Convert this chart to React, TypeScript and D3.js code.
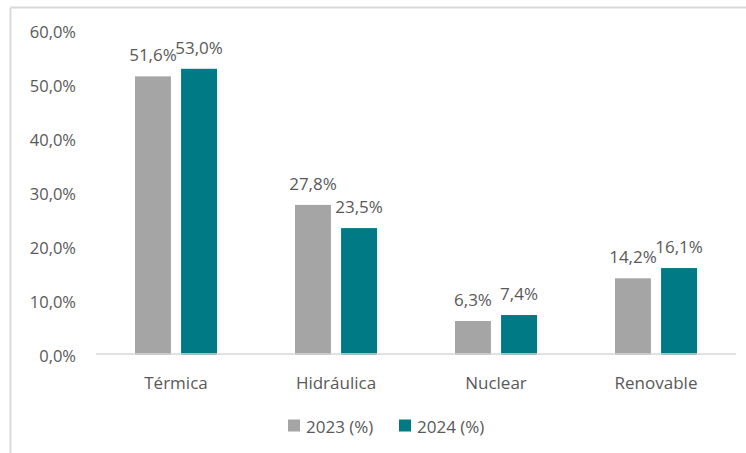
import React from "react";
import * as d3 from "d3";

const categories = ["Térmica", "Hidráulica", "Nuclear", "Renovable"];
const series2023 = [51.6, 27.8, 6.3, 14.2];
const series2024 = [53.0, 23.5, 7.4, 16.1];
const seriesNames = ["2023 (%)", "2024 (%)"];
const yTicks = [0, 10, 20, 30, 40, 50, 60];

const W = 746;
const H = 453;
const FONT = "'Open Sans', 'Noto Sans', sans-serif";
const TEXT = "#595959";
const COLORS = ["#A5A5A5", "#007A85"];

const fmt = (v: number) => v.toFixed(1).replace(".", ",") + "%";

export default function App() {
  const x0 = d3.scaleBand<string>().domain(categories).range([96, 736]).paddingInner(0).paddingOuter(0);
  const x1 = d3.scaleBand<string>().domain(["0", "1"]).range([0, 82]).paddingInner(0.22);
  const y = d3.scaleLinear().domain([0, 60]).range([355, 31]);
  const series = [series2023, series2024];
  const groupOffset = (x0.bandwidth() - 82) / 2;

  return (
    <svg
      width={W}
      height={H}
      style={{ position: "fixed", top: 0, left: 0, background: "#fff" }}
      fontFamily={FONT}
    >
      <rect x={0} y={0} width={W} height={H} fill="#fff" />
      {/* border */}
      <line x1={10.5} y1={7.5} x2={W + 2} y2={7.5} stroke="#D9D9D9" strokeWidth={2} />
      <line x1={10.5} y1={7.5} x2={10.5} y2={H + 2} stroke="#D9D9D9" strokeWidth={2} />

      {/* y tick labels */}
      {yTicks.map((t) => (
        <text
          key={t}
          x={76}
          y={y(t)}
          textAnchor="end"
          dominantBaseline="central"
          fontSize={16.5}
          fill={TEXT}
        >
          {fmt(t)}
        </text>
      ))}

      {/* bars */}
      {categories.map((c, ci) => (
        <g key={c} transform={`translate(${(x0(c) as number) + groupOffset},0)`}>
          {series.map((s, si) => {
            const bx = x1(String(si)) as number;
            const bw = x1.bandwidth();
            return (
              <g key={si}>
                <rect
                  x={bx}
                  y={y(s[ci])}
                  width={bw}
                  height={y(0) - y(s[ci])}
                  fill={COLORS[si]}
                />
                <text
                  x={bx + bw / 2}
                  y={y(s[ci]) - 15}
                  textAnchor="middle"
                  fontSize={17}
                  fill={TEXT}
                >
                  {fmt(s[ci])}
                </text>
              </g>
            );
          })}
        </g>
      ))}

      {/* baseline */}
      <line x1={96} y1={354} x2={736} y2={354} stroke="#D9D9D9" strokeWidth={1.5} />

      {/* category labels */}
      {categories.map((c) => (
        <text
          key={c}
          x={(x0(c) as number) + x0.bandwidth() / 2}
          y={382}
          textAnchor="middle"
          dominantBaseline="central"
          fontSize={17}
          fill={TEXT}
        >
          {c}
        </text>
      ))}

      {/* legend */}
      {seriesNames.map((n, i) => {
        const lx = [288, 399][i];
        return (
          <g key={n}>
            <rect x={lx} y={419.5} width={12} height={12} fill={COLORS[i]} />
            <text x={lx + 18} y={426} dominantBaseline="central" fontSize={17} fill={TEXT}>
              {n}
            </text>
          </g>
        );
      })}
    </svg>
  );
}
